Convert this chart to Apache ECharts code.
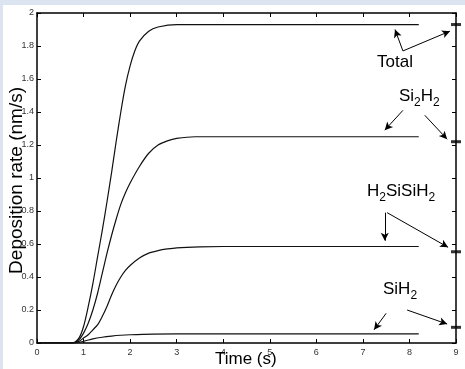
<!DOCTYPE html>
<html>
<head>
<meta charset="utf-8">
<script src="https://cdn.jsdelivr.net/npm/echarts@6/dist/echarts.min.js"></script>
<style>
  body { margin: 0; background: #dde4f1; }
  #chart { position: absolute; left: 3px; top: 5px; width: 462px; height: 364px; background: #fff; }
</style>
</head>
<body>
<div id="chart"></div>
<script>
// time (s) and deposition rate (nm/s)
var totalRate = [
  [0, 0], [0.75, 0], [0.9, 0.03], [1.0, 0.1], [1.1, 0.22], [1.2, 0.36], [1.3, 0.52],
  [1.4, 0.68], [1.5, 0.85], [1.6, 1.03], [1.7, 1.22], [1.8, 1.4], [1.9, 1.56],
  [2.0, 1.68], [2.1, 1.77], [2.2, 1.83], [2.4, 1.89], [2.6, 1.915], [3.0, 1.93],
  [4.0, 1.93], [8.2, 1.93]
]
var si2h2Rate = [
  [0, 0], [0.75, 0], [0.9, 0.02], [1.0, 0.06], [1.1, 0.12], [1.2, 0.2], [1.3, 0.3],
  [1.4, 0.42], [1.5, 0.54], [1.6, 0.65], [1.7, 0.75], [1.8, 0.84], [1.9, 0.91],
  [2.0, 0.97], [2.2, 1.07], [2.4, 1.15], [2.6, 1.2], [2.8, 1.225], [3.0, 1.24],
  [3.4, 1.25], [8.2, 1.25]
]
var h2sisih2Rate = [
  [0, 0], [0.75, 0], [0.9, 0.01], [1.0, 0.03], [1.1, 0.05], [1.2, 0.08], [1.3, 0.11],
  [1.4, 0.16], [1.5, 0.22], [1.6, 0.29], [1.7, 0.35], [1.8, 0.4], [1.9, 0.44],
  [2.0, 0.47], [2.2, 0.515], [2.4, 0.545], [2.6, 0.56], [2.8, 0.57], [3.0, 0.577],
  [3.5, 0.583], [4.0, 0.585], [8.2, 0.585]
]
var sih2Rate = [
  [0, 0], [0.75, 0], [1.0, 0.01], [1.2, 0.025], [1.4, 0.035], [1.6, 0.042],
  [1.8, 0.047], [2.0, 0.05], [2.5, 0.054], [3.0, 0.055], [8.2, 0.055]
]
// thick marks on the right axis
var rightMarks = [1.93, 1.22, 0.553, 0.095]
var xTicks = [0, 1, 2, 3, 4, 5, 6, 7, 8, 9]
var yTicks = [0, 0.2, 0.4, 0.6, 0.8, 1, 1.2, 1.4, 1.6, 1.8, 2]

var chart = echarts.init(document.getElementById('chart'))

var lineStyle = { color: '#111', width: 1.2 }
var arrowLines = [
  [[7.86, 1.77], [7.69, 1.9]],
  [[7.86, 1.77], [8.87, 1.89]],
  [[7.86, 1.41], [7.47, 1.29]],
  [[8.33, 1.38], [8.81, 1.235]],
  [[7.47, 0.79], [7.47, 0.62]],
  [[7.52, 0.79], [8.83, 0.58]],
  [[7.5, 0.18], [7.24, 0.08]],
  [[7.95, 0.2], [8.81, 0.115]]
]

function mkLine(name, data) {
  return {
    name: name,
    type: 'line',
    data: data,
    smooth: 0.3,
    showSymbol: false,
    lineStyle: lineStyle,
    z: 3
  }
}

var series = [
  mkLine('Total', totalRate),
  mkLine('Si2H2', si2h2Rate),
  mkLine('H2SiSiH2', h2sisih2Rate),
  mkLine('SiH2', sih2Rate),
  {
    type: 'scatter',
    data: rightMarks.map(function (v) { return [xTicks[xTicks.length - 1], v] }),
    symbol: 'rect',
    symbolSize: [10, 3],
    itemStyle: { color: '#000' },
    clip: false,
    z: 5
  }
]
series[0].markLine = {
  silent: true,
  symbol: ['none', 'arrow'],
  symbolSize: [6, 8],
  label: { show: false },
  lineStyle: { color: '#000', width: 1, type: 'solid' },
  data: arrowLines.map(function (p) {
    return [{ coord: p[0] }, { coord: p[1] }]
  })
}

var font = 'Liberation Sans, Arial, sans-serif'
var axisCommon = {
  type: 'value',
  min: 0,
  axisLine: { show: true, onZero: false, lineStyle: { color: '#000', width: 1.5 } },
  axisTick: { show: true, inside: true, length: 4, lineStyle: { color: '#000' } },
  splitLine: { show: false }
}

chart.setOption({
  animation: false,
  textStyle: { fontFamily: font },
  grid: { left: 34, top: 8, right: 9, bottom: 26 },
  xAxis: [
    Object.assign({}, axisCommon, {
      max: 9, interval: 1, position: 'bottom',
      axisLabel: { fontSize: 9, color: '#333', margin: 5 }
    }),
    Object.assign({}, axisCommon, {
      max: 9, interval: 1, position: 'top',
      axisLabel: { show: false }
    })
  ],
  yAxis: [
    Object.assign({}, axisCommon, {
      max: 2, interval: 0.2, position: 'left',
      axisLabel: { fontSize: 9, color: '#333', margin: 3 }
    }),
    Object.assign({}, axisCommon, {
      max: 2, interval: 0.2, position: 'right',
      axisLabel: { show: false }
    })
  ],
  graphic: [
    {
      type: 'text', left: 4, top: 82, rotation: Math.PI / 2,
      style: { text: 'Deposition rate (nm/s)', fontSize: 19, fill: '#000', fontFamily: font },
      z: 10
    },
    {
      type: 'text', left: 212, top: 346,
      style: { text: 'Time (s)', fontSize: 17, fill: '#000', fontFamily: font },
      z: 10
    },
    {
      type: 'text', left: 374, top: 49,
      style: { text: 'Total', fontSize: 17, fill: '#000', fontFamily: font }
    },
    {
      type: 'text', left: 396, top: 83,
      style: {
        text: 'Si{s|2}H{s|2}', fontSize: 17, fill: '#000', fontFamily: font,
        rich: { s: { fontSize: 12, padding: [12, 0, 0, 0], fontFamily: font } }
      }
    },
    {
      type: 'text', left: 364, top: 178,
      style: {
        text: 'H{s|2}SiSiH{s|2}', fontSize: 17, fill: '#000', fontFamily: font,
        rich: { s: { fontSize: 12, padding: [12, 0, 0, 0], fontFamily: font } }
      }
    },
    {
      type: 'text', left: 380, top: 276,
      style: {
        text: 'SiH{s|2}', fontSize: 17, fill: '#000', fontFamily: font,
        rich: { s: { fontSize: 12, padding: [12, 0, 0, 0], fontFamily: font } }
      }
    }
  ],
  series: series
})
</script>
</body>
</html>
